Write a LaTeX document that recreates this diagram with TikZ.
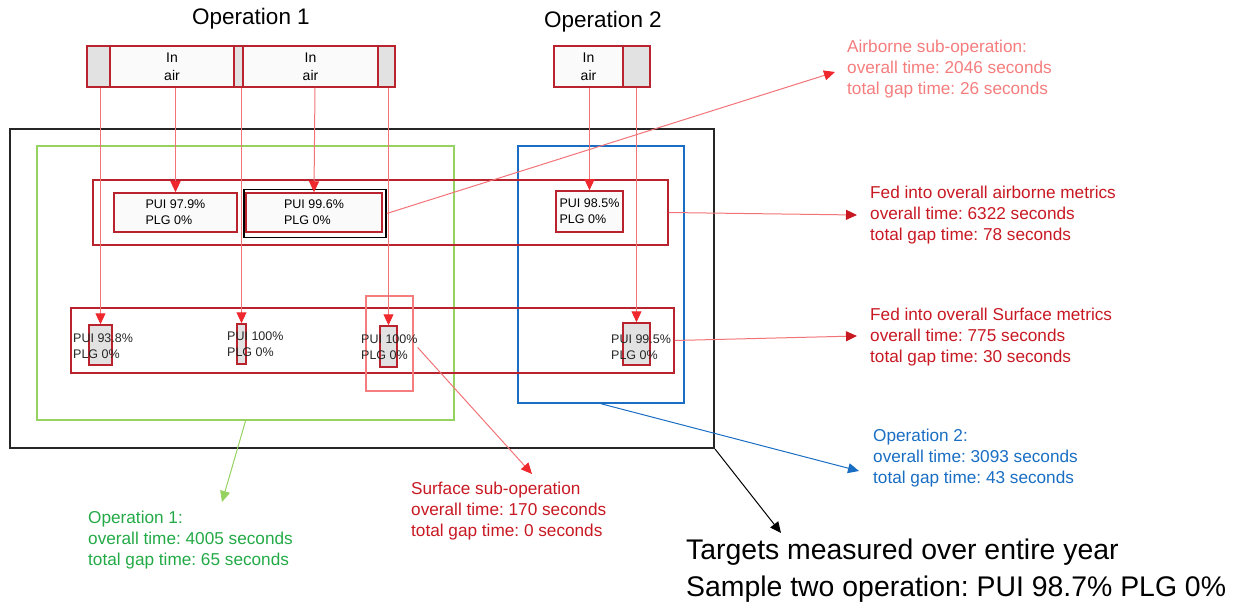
\documentclass[tikz,border=0pt]{standalone}
\usepackage{fontspec}
\setmainfont{Liberation Sans}
\frenchspacing
\usetikzlibrary{arrows.meta}
\definecolor{boxred}{RGB}{185,35,45}
\definecolor{txtred}{RGB}{200,25,35}
\definecolor{linepink}{RGB}{242,115,120}
\definecolor{tipred}{RGB}{238,40,45}
\definecolor{airpink}{RGB}{245,125,125}
\definecolor{gapgray}{RGB}{226,226,226}
\definecolor{opgreen}{RGB}{150,210,95}
\definecolor{txtgreen}{RGB}{35,170,70}
\definecolor{opblue}{RGB}{25,110,195}
\begin{document}
\begin{tikzpicture}[x=1pt,y=-1pt,
seg/.style={draw=boxred,line width=1.5pt,minimum height=41pt,inner sep=0pt},
gap/.style={seg,fill=gapgray},
air/.style={seg,fill=white!98!black,font=\fontsize{14}{18}\selectfont,align=center},
pui/.style={draw=boxred,line width=1.5pt,fill=white!98!black,font=\fontsize{12.5}{16}\selectfont,align=left,inner sep=0pt},
bar/.style={draw=boxred,line width=1.5pt,fill=gapgray,inner sep=0pt},
puitxt/.style={anchor=west,inner sep=0pt,font=\fontsize{12.5}{16}\selectfont,align=left,text=black!85},
frame/.style={line width=#1,inner sep=0pt},
lbl/.style={anchor=west,inner sep=0pt,font=\fontsize{17.2}{21}\selectfont,align=left},
feed/.style={draw=linepink,line width=1pt,-{Triangle[length=11pt,width=10pt,color=tipred]}},
note/.style={line width=1pt,-{Triangle[length=11pt,width=10pt]}}]
\useasboundingbox(0,0)rectangle(1243,607);
\node[font=\fontsize{22.5}{25}\selectfont](op1)at(251,19){Operation 1};
\node[font=\fontsize{22.5}{25}\selectfont](op2)at(603,22){Operation 2};
\node[frame=2pt,draw=black!85,minimum width=704pt,minimum height=319pt](outer)at(362,288.5){};
\node[frame=2pt,draw=opgreen,minimum width=417pt,minimum height=274pt](grn)at(245.5,283){};
\node[frame=1.5pt,draw=opblue,minimum width=166pt,minimum height=257pt](blu)at(601,274.5){};
\node[frame=1.5pt,draw=boxred,minimum width=575pt,minimum height=65pt](mstrip)at(380.5,212.5){};
\node[frame=1.5pt,draw=boxred,minimum width=603pt,minimum height=65pt](bstrip)at(372.5,340.5){};
\node[frame=1.5pt,draw=airpink,minimum width=47pt,minimum height=95pt](pk)at(389.5,343.5){};
\node[gap,minimum width=23pt](g1)at(98.5,66.5){};
\node[air,minimum width=124pt](w1)at(172,66.5){In\\air};
\node[gap,minimum width=9pt](g2)at(238.5,66.5){};
\node[air,minimum width=135pt](w2)at(310.5,66.5){In\\air};
\node[gap,minimum width=17pt](g3)at(386.5,66.5){};
\node[air,minimum width=69pt](w3)at(588.5,66.5){In\\air};
\node[gap,minimum width=27pt](g4)at(636.5,66.5){};
\node[pui,minimum width=123pt,minimum height=39pt](m1)at(175.5,212.5){PUI 97.9\%\\PLG 0\%};
\node[frame=1.5pt,draw=black,minimum width=142pt,minimum height=48pt](m2o)at(315,213.5){};
\node[pui,minimum width=136pt,minimum height=39pt](m2)at(314,212.5){PUI 99.6\%\\PLG 0\%};
\node[pui,minimum width=67pt,minimum height=41pt](m3)at(589.5,211.5){PUI 98.5\%\\PLG 0\%};
\node[bar,minimum width=23pt,minimum height=40pt](b1)at(100.5,345){};
\node[bar,minimum width=9pt,minimum height=40pt](b2)at(241.5,344){};
\node[bar,minimum width=17pt,minimum height=41pt](b3)at(388.5,346.5){};
\node[bar,minimum width=27pt,minimum height=42pt](b4)at(636.5,344){};
\node[puitxt](t1)at(73,346.5){PUI 93.8\%\\PLG 0\%};
\node[puitxt](t2)at(227,344){PUI 100\%\\PLG 0\%};
\node[puitxt](t3)at(361,347.5){PUI 100\%\\PLG 0\%};
\node[puitxt](t4)at(611,347.5){PUI 99.5\%\\PLG 0\%};
\node[lbl,text=airpink](la)at(847,69){Airborne sub-operation:\\overall time: 2046 seconds\\total gap time: 26 seconds};
\node[lbl,text=txtred](lf1)at(870,215){Fed into overall airborne metrics\\overall time: 6322 seconds\\total gap time: 78 seconds};
\node[lbl,text=txtred](lf2)at(870,337){Fed into overall Surface metrics\\overall time: 775 seconds\\total gap time: 30 seconds};
\node[lbl,text=opblue](lo2)at(873,458){Operation 2:\\overall time: 3093 seconds\\total gap time: 43 seconds};
\node[lbl,text=txtred](ls)at(411,511){Surface sub-operation\\overall time: 170 seconds\\total gap time: 0 seconds};
\node[lbl,text=txtgreen](lo1)at(88,540){Operation 1:\\overall time: 4005 seconds\\total gap time: 65 seconds};
\node[lbl,font=\fontsize{28.4}{37}\selectfont](lt)at(686,570.5){Targets measured over entire year\\Sample two operation: PUI 98.7\% PLG 0\%};
\coordinate(la-in)at(835,72);
\coordinate(lf1-in)at(857,215);
\coordinate(lf2-in)at(857,336);
\coordinate(ls-in)at(532,474);
\coordinate(lo1-in)at(222,502);
\coordinate(lo2-in)at(859,471);
\coordinate(lt-in)at(781,533);
\draw[feed](b1.north|-g1.south)--(b1.north);
\draw[feed](m1.north|-w1.south)--(m1.north);
\draw[feed](b2.north|-g2.south)--(b2.north);
\draw[feed](m2o.north|-w2.south)--(m2.north);
\draw[feed](b3.north|-g3.south)--(b3.north);
\draw[feed](m3.north|-w3.south)--(m3.north);
\draw[feed](b4.north|-g4.south)--(b4.north);
\draw[feed](m2o.east)--(la-in);
\draw[feed](t3.east)--(ls-in);
\draw[note,draw=linepink,-{Triangle[length=11pt,width=10pt,color=txtred]}](mstrip.east)--(lf1-in);
\draw[note,draw=linepink,-{Triangle[length=11pt,width=10pt,color=txtred]}](bstrip.east)--(lf2-in);
\draw[note,draw=opgreen,-{Triangle[length=11pt,width=10pt,color=opgreen]}](grn.south)--(lo1-in);
\draw[note,draw=opblue](blu.south)--(lo2-in);
\draw[note,draw=black](outer.south east)--(lt-in);
\end{tikzpicture}
\end{document}
